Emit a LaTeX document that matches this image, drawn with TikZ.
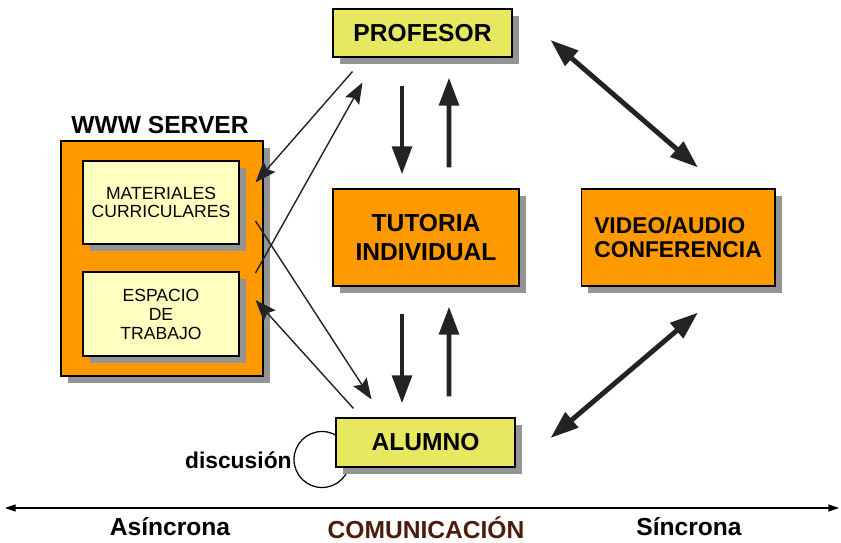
\documentclass[tikz,border=0pt]{standalone}
\usepackage{fontspec}
\setmainfont{Liberation Sans}
\usetikzlibrary{arrows.meta,shadows}
\definecolor{boxyellow}{RGB}{232,232,96}
\definecolor{paleyellow}{RGB}{255,255,192}
\definecolor{boxorange}{RGB}{255,153,0}
\definecolor{commbrown}{RGB}{75,27,11}
\definecolor{arrowgray}{RGB}{35,35,35}
\begin{document}
\begin{tikzpicture}[x=0.02cm, y=-0.02cm,
    boxshadow/.style={drop shadow={shadow xshift=0.14cm, shadow yshift=-0.14cm, fill=black!42, opacity=1}},
    actor/.style={boxshadow, draw, line width=0.6pt, fill=boxyellow, inner sep=0pt,
      minimum width=3.58cm, font=\fontsize{14}{16}\selectfont\bfseries},
    mode/.style={boxshadow, draw, line width=0.6pt, fill=boxorange, inner sep=0pt,
      minimum height=1.94cm, align=center},
    page/.style={boxshadow, draw, line width=0.6pt, fill=paleyellow, inner sep=0pt,
      minimum width=3.12cm, align=center},
    bigarrow/.style={line width=2.8pt, draw=arrowgray, -{Triangle[length=16pt,width=11pt]}},
    bothbig/.style={line width=2.8pt, draw=arrowgray, {Triangle[length=16pt,width=11pt]}-{Triangle[length=16pt,width=11pt]}},
    thinarrow/.style={line width=0.8pt, draw=arrowgray, -{Stealth[length=12pt,width=9pt,inset=2pt]}},
    sidelabel/.style={inner sep=0pt, font=\fontsize{14}{16}\selectfont\bfseries}]
  \useasboundingbox (0,0) rectangle (841,543);

  % discusion loop sits behind the ALUMNO box
  \coordinate (loopc) at (322,459.5);
  \draw[line width=0.7pt] (loopc) circle [radius=0.56cm];
  \node[anchor=east, font=\fontsize{13}{15}\selectfont\bfseries, inner sep=0pt] (disc) at (292,460) {discusión};

  \node[actor, minimum height=0.96cm] (prof) at (422.5,33) {PROFESOR};
  \node[actor, minimum height=0.98cm] (alumno) at (425.5,442.5) {ALUMNO};

  \node[mode, minimum width=3.72cm, font=\fontsize{14}{16.4}\selectfont\bfseries] (tut) at (426,237.5) {TUTORIA\\INDIVIDUAL};
  \node[mode, minimum width=3.88cm, align=left, font=\fontsize{13}{13.8}\selectfont\bfseries] (video) at (678,237.5) {VIDEO/AUDIO\\CONFERENCIA};

  % web server with its two pages
  \node[sidelabel] (srvlabel) at (160,125) {WWW SERVER};
  \node[boxshadow, draw, line width=0.6pt, fill=boxorange, minimum width=4.04cm, minimum height=4.7cm] (server) at (162,258.5) {};
  \node[page, minimum height=1.66cm, font=\fontsize{10}{10.5}\selectfont] (mat) at (161,202.5) {MATERIALES\\CURRICULARES};
  \node[page, minimum height=1.68cm, font=\fontsize{10}{10.8}\selectfont] (esp) at (161,314) {ESPACIO\\DE\\TRABAJO};

  % thick arrows
  \draw[bigarrow] ([shift={(-20.5,28)}]prof.south) -- ([shift={(-24,-14)}]tut.north);
  \draw[bigarrow] ([shift={(23,-21)}]tut.north) -- ([shift={(26.5,20)}]prof.south);
  \draw[bigarrow] ([shift={(-24,27)}]tut.south) -- ([shift={(-23.5,-14)}]alumno.north);
  \draw[bigarrow] ([shift={(23.5,-21)}]alumno.north) -- ([shift={(23,20)}]tut.south);
  \draw[bothbig] ([shift={(38,7)}]prof.east) -- ([shift={(20,-21)}]video.north);
  \draw[bothbig] ([shift={(20,26)}]video.south) -- ([shift={(35,-4.5)}]alumno.east);

  % thin arrows to and from the server
  \draw[thinarrow] ([shift={(20,14)}]prof.south west) -- ([shift={(16,-20)}]mat.east);
  \draw[thinarrow] ([shift={(16,-41)}]esp.east) -- ([shift={(30,25)}]prof.south west);
  \draw[thinarrow] ([shift={(16,18.5)}]mat.east) -- ([shift={(36,-18)}]alumno.north west);
  \draw[thinarrow] ([shift={(18,-9)}]alumno.north west) -- ([shift={(16,-14)}]esp.east);

  % time axis
  \coordinate (axl) at (5,508);
  \coordinate (axr) at (839,508);
  \draw[line width=0.6pt, {Triangle[length=6pt,width=4pt]}-{Triangle[length=6pt,width=4pt]}] (axl) -- (axr);
  \node[sidelabel] (asinc) at (170,527) {Asíncrona};
  \node[sidelabel, text=commbrown] (comm) at (426,528) {COMUNICACIÓN};
  \node[sidelabel] (sinc) at (689,527) {Síncrona};
\end{tikzpicture}
\end{document}
